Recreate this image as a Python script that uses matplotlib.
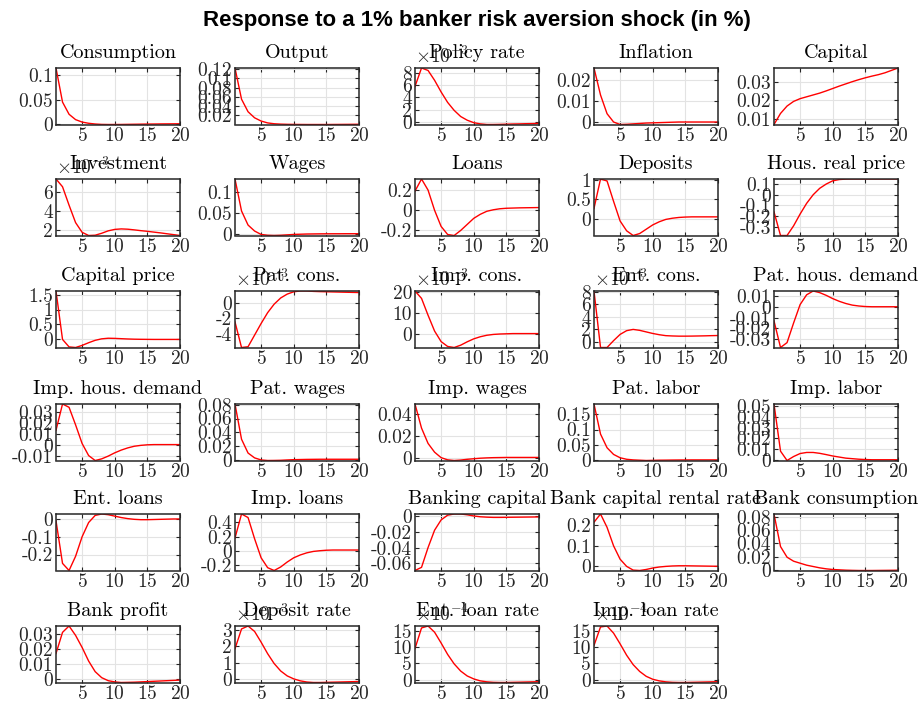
import matplotlib
matplotlib.use("Agg")
import matplotlib.pyplot as plt
from matplotlib.ticker import MultipleLocator, FuncFormatter

plt.rcParams["font.family"] = "serif"
plt.rcParams["font.serif"] = ["cmr10"]
plt.rcParams["mathtext.fontset"] = "cm"
plt.rcParams["axes.unicode_minus"] = False
plt.rcParams["axes.formatter.use_mathtext"] = True

periods = list(range(1, 21))

titles = ["Consumption", "Output", "Policy rate", "Inflation", "Capital",
          "Investment", "Wages", "Loans", "Deposits", "Hous. real price",
          "Capital price", "Pat. cons.", "Imp. cons.", "Ent. cons.", "Pat. hous. demand",
          "Imp. hous. demand", "Pat. wages", "Imp. wages", "Pat. labor", "Imp. labor",
          "Ent. loans", "Imp. loans", "Banking capital", "Bank capital rental rate", "Bank consumption",
          "Bank profit", "Deposit rate", "Ent. loan rate", "Imp. loan rate"]

# responses, in the units shown on each panel (see exponents below)
consumption = [0.115, 0.045, 0.02, 0.009, 0.004, 0.0015, 0.0, -0.0008, -0.001, -0.001,
               -0.0009, -0.0007, -0.0005, -0.0003, -0.0001, 0.0, 0.0002, 0.0003, 0.0004, 0.0005]
output = [0.122, 0.055, 0.028, 0.015, 0.008, 0.004, 0.0022, 0.0014, 0.001, 0.0008,
          0.0007, 0.0006, 0.0006, 0.0006, 0.0006, 0.0007, 0.0008, 0.0009, 0.001, 0.0011]
policy_rate = [5.8, 8.8, 8.4, 6.8, 4.9, 3.2, 1.9, 0.9, 0.3, -0.1,
               -0.3, -0.4, -0.4, -0.38, -0.35, -0.32, -0.3, -0.27, -0.25, -0.22]
inflation = [0.026, 0.013, 0.004, 0.0, -0.0012, -0.0011, -0.0009, -0.0007, -0.0005, -0.0004,
             -0.0003, -0.0002, -0.0001, 0.0, 0.0, 0.0, 0.0, 0.0, 0.0, 0.0]
capital = [0.007, 0.013, 0.017, 0.0195, 0.021, 0.022, 0.023, 0.024, 0.0252, 0.0265,
           0.0278, 0.029, 0.0302, 0.0313, 0.0323, 0.0332, 0.034, 0.035, 0.0363, 0.0376]
investment = [7.3, 6.5, 4.6, 2.8, 1.8, 1.47, 1.5, 1.7, 1.95, 2.1,
              2.15, 2.12, 2.05, 1.97, 1.9, 1.82, 1.74, 1.65, 1.56, 1.47]
wages = [0.13, 0.055, 0.022, 0.008, 0.0, -0.002, -0.0025, -0.002, -0.001, 0.0,
         0.0005, 0.001, 0.0012, 0.0014, 0.0015, 0.0016, 0.0016, 0.0017, 0.0017, 0.0017]
loans = [0.19, 0.31, 0.2, 0.0, -0.16, -0.24, -0.25, -0.2, -0.14, -0.08,
         -0.04, -0.01, 0.005, 0.015, 0.02, 0.022, 0.024, 0.025, 0.026, 0.027]
deposits = [0.27, 1.02, 0.97, 0.45, -0.05, -0.3, -0.42, -0.37, -0.26, -0.15,
            -0.07, -0.01, 0.02, 0.04, 0.05, 0.055, 0.055, 0.055, 0.055, 0.055]
hous_price = [-0.16, -0.38, -0.38, -0.29, -0.18, -0.08, 0.0, 0.06, 0.1, 0.13,
              0.142, 0.146, 0.147, 0.147, 0.147, 0.147, 0.147, 0.147, 0.147, 0.147]
capital_price = [1.62, 0.0, -0.25, -0.27, -0.2, -0.11, -0.03, 0.02, 0.04, 0.035,
                 0.025, 0.015, 0.008, 0.004, 0.002, 0.0, 0.0, 0.0, 0.0, 0.0]
pat_cons = [-2.5, -5.8, -5.7, -4.2, -2.7, -1.3, -0.2, 0.6, 1.1, 1.4,
            1.5, 1.5, 1.45, 1.42, 1.4, 1.38, 1.36, 1.34, 1.32, 1.3]
imp_cons = [20.5, 17.0, 9.0, 1.5, -3.5, -5.8, -6.3, -5.2, -3.6, -2.2,
            -1.2, -0.5, -0.1, 0.1, 0.2, 0.3, 0.3, 0.3, 0.3, 0.3]
ent_cons = [8.16, -0.9, -0.9, 0.2, 1.2, 1.8, 2.0, 1.85, 1.6, 1.35,
            1.15, 1.0, 0.95, 0.92, 0.92, 0.93, 0.95, 0.97, 1.0, 1.02]
pat_hous = [-0.013, -0.0375, -0.033, -0.015, 0.002, 0.011, 0.0145, 0.013, 0.0105, 0.0075,
            0.005, 0.003, 0.0015, 0.0007, 0.0002, 0.0, 0.0, 0.0, 0.0, 0.0]
imp_hous = [0.013, 0.037, 0.034, 0.018, 0.001, -0.01, -0.0145, -0.013, -0.0105, -0.0075,
            -0.005, -0.003, -0.0015, -0.0007, -0.0002, 0.0, 0.0, 0.0, 0.0, 0.0]
pat_wages = [0.081, 0.03, 0.01, 0.003, 0.0, -0.0008, -0.0007, -0.0005, 0.0, 0.0004,
             0.0006, 0.0008, 0.0009, 0.001, 0.001, 0.001, 0.001, 0.001, 0.001, 0.001]
imp_wages = [0.049, 0.027, 0.013, 0.005, 0.0, -0.002, -0.0026, -0.0022, -0.0015, -0.001,
             -0.0005, -0.0002, 0.0, 0.0001, 0.0002, 0.0002, 0.0002, 0.0002, 0.0002, 0.0002]
pat_labor = [0.184, 0.085, 0.04, 0.018, 0.007, 0.002, 0.0, -0.001, -0.002, -0.0015,
             -0.001, -0.0008, -0.0005, -0.0003, -0.0002, 0.0, 0.0, 0.0, 0.0, 0.0]
imp_labor = [0.052, 0.008, -0.0007, 0.003, 0.0058, 0.0068, 0.0068, 0.006, 0.0048, 0.0035,
             0.0025, 0.0015, 0.001, 0.0005, 0.0002, 0.0, 0.0, 0.0, 0.0, 0.0]
ent_loans = [-0.01, -0.25, -0.29, -0.21, -0.1, -0.02, 0.02, 0.028, 0.024, 0.016,
             0.008, 0.002, -0.002, -0.004, -0.004, -0.003, -0.002, -0.001, 0.0, 0.0]
imp_loans = [0.18, 0.52, 0.47, 0.17, -0.1, -0.24, -0.28, -0.23, -0.16, -0.1,
             -0.06, -0.03, -0.01, 0.0, 0.007, 0.01, 0.01, 0.01, 0.01, 0.01]
bank_capital = [-0.069, -0.065, -0.04, -0.018, -0.005, 0.001, 0.0025, 0.0025, 0.0015, 0.0,
                -0.001, -0.0015, -0.0018, -0.0018, -0.0017, -0.0016, -0.0015, -0.0014, -0.0013, -0.0012]
bank_rental = [0.215, 0.255, 0.19, 0.1, 0.035, 0.0, -0.018, -0.02, -0.015, -0.008,
               -0.003, 0.0, 0.002, 0.003, 0.003, 0.0025, 0.002, 0.0015, 0.001, 0.0005]
bank_cons = [0.084, 0.035, 0.019, 0.013, 0.01, 0.007, 0.005, 0.003, 0.0015, 0.0005,
             0.0, -0.0005, -0.0008, -0.001, -0.001, -0.001, -0.0009, -0.0008, -0.0007, -0.0006]
bank_profit = [0.017, 0.031, 0.0352, 0.029, 0.021, 0.012, 0.005, 0.001, -0.001, -0.0018,
               -0.0022, -0.0021, -0.002, -0.0018, -0.0016, -0.0014, -0.0012, -0.001, -0.0008, -0.0006]
deposit_rate = [1.85, 3.05, 3.23, 2.9, 2.25, 1.55, 0.95, 0.5, 0.2, 0.02,
                -0.1, -0.17, -0.2, -0.2, -0.19, -0.18, -0.17, -0.16, -0.15, -0.14]
ent_loan_rate = [9.5, 15.8, 16.4, 14.5, 11.2, 7.7, 4.8, 2.6, 1.1, 0.2,
                 -0.4, -0.7, -0.85, -0.9, -0.9, -0.85, -0.8, -0.75, -0.7, -0.65]
imp_loan_rate = [10.5, 16.2, 16.5, 14.3, 11.0, 7.5, 4.6, 2.5, 1.0, 0.1,
                 -0.4, -0.7, -0.85, -0.9, -0.9, -0.85, -0.8, -0.75, -0.7, -0.65]

series = [consumption, output, policy_rate, inflation, capital,
          investment, wages, loans, deposits, hous_price,
          capital_price, pat_cons, imp_cons, ent_cons, pat_hous,
          imp_hous, pat_wages, imp_wages, pat_labor, imp_labor,
          ent_loans, imp_loans, bank_capital, bank_rental, bank_cons,
          bank_profit, deposit_rate, ent_loan_rate, imp_loan_rate]

exponents = [0, 0, -3, 0, 0,
             -3, 0, 0, 0, 0,
             0, -3, -3, -3, 0,
             0, 0, 0, 0, 0,
             0, 0, 0, 0, 0,
             0, -3, -4, -4]

ytick_steps = [0.05, 0.02, 2, 0.01, 0.01,
               2, 0.05, 0.2, 0.5, 0.1,
               0.5, 2, 10, 2, 0.01,
               0.01, 0.02, 0.02, 0.05, 0.01,
               0.1, 0.2, 0.02, 0.1, 0.02,
               0.01, 1, 5, 5]

fig = plt.figure(figsize=(9.21, 7.06), dpi=100)
W, H = 921.0, 706.0
col_left = [56, 235, 415, 594, 774]
row_top = [68, 179, 291, 404, 514, 626]
ax_w, ax_h = 124, 56.5

dark = "#262626"


def fmt(v, pos):
    v = round(v, 6)
    if v == 0:
        v = 0.0
    return "%g" % v


for i, (name, y) in enumerate(zip(titles, series)):
    r, c = divmod(i, 5)
    ax = fig.add_axes([col_left[c] / W, 1 - (row_top[r] + ax_h) / H, ax_w / W, ax_h / H])
    ax.plot(periods, y, color="red", lw=1.0)
    ax.set_xlim(1, 20)
    ax.set_ylim(min(y), max(y))
    ax.set_xticks([5, 10, 15, 20])
    ax.yaxis.set_major_locator(MultipleLocator(ytick_steps[i]))
    ax.yaxis.set_major_formatter(FuncFormatter(fmt))
    ax.grid(True, color="#e3e3e3", lw=0.8)
    ax.set_axisbelow(True)
    ax.tick_params(direction="in", length=3, width=0.8, top=True, right=True,
                   labelsize=14, colors=dark, pad=2)
    for s in ax.spines.values():
        s.set_color(dark)
        s.set_linewidth(1.1)
    ax.set_title(name, fontsize=14.5, pad=7, color="black")
    if exponents[i] != 0:
        ax.text(0.0, 1.02, r"$\times10^{%d}$" % exponents[i], transform=ax.transAxes,
                ha="left", va="bottom", fontsize=14, color=dark)

fig.text(0.518, 0.971, "Response to a 1% banker risk aversion shock (in %)",
         ha="center", va="center", fontsize=16, fontweight="bold", family="Liberation Sans")

fig.savefig("out.png", dpi=100)
